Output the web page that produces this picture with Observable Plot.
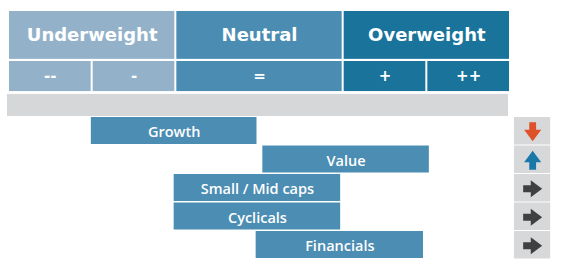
<!DOCTYPE html>
<html><head><meta charset="utf-8">
<script src="https://cdn.jsdelivr.net/npm/d3@7"></script>
<script src="https://cdn.jsdelivr.net/npm/@observablehq/plot@0.6"></script>
<style>body{margin:0;background:#fff}#chart svg{display:block}</style>
</head><body><div id="chart"></div>
<script>
// ---- data ----
const groups = ["Underweight", "Neutral", "Overweight"];
const groupFrom = [0, 2, 4];
const groupTo = [2, 4, 6];
const levels = ["--", "-", "=", "+", "++"];
const levelFrom = [0, 1, 2, 4, 5];
const levelTo = [1, 2, 4, 5, 6];
const sectors = ["Growth", "Value", "Small / Mid caps", "Cyclicals", "Financials"];
const sectorFrom = [0.99, 3.04, 1.98, 1.98, 2.96];
const sectorTo = [2.97, 5.03, 3.97, 3.97, 4.96];
const trends = ["down", "up", "flat", "flat", "flat"];

// ---- styling ----
const groupColor = ["#93b2ca", "#4b8db2", "#19739b"];
const levelColor = ["#93b2ca", "#93b2ca", "#4b8db2", "#19739b", "#19739b"];
const barColor = "#4b8db3";
const greyBar = "#d6d7d9";
const boxGrey = "#d7d8da";
const headFont = "DejaVu Sans";
const barFont = "Open Sans";

function arrow(angle) {
  const pts = [[-1,-0.36],[-0.2,-0.36],[-0.2,-0.9],[1,0],[-0.2,0.9],[-0.2,0.36],[-1,0.36]];
  const c = Math.cos(angle), s = Math.sin(angle);
  return {
    draw(ctx, size) {
      const r = Math.sqrt(size / Math.PI);
      pts.forEach(([x, y], i) => {
        const px = (x * c - y * s) * r, py = (x * s + y * c) * r;
        i ? ctx.lineTo(px, py) : ctx.moveTo(px, py);
      });
      ctx.closePath();
    }
  };
}
const arrowShape = {down: arrow(Math.PI / 2), up: arrow(-Math.PI / 2), flat: arrow(0)};
const arrowColor = {down: "#df5128", up: "#1a78a8", flat: "#3e4042"};

const idx = sectors.map((d, i) => i);
const arrowX = 6.265;

const chart = Plot.plot({
  width: 572,
  height: 268,
  margin: 0,
  x: {domain: [0, 6], range: [8, 510], axis: null},
  y: {domain: [0, 5], range: [117, 259.5], axis: null},
  marks: [
    // header row 1
    Plot.rect(groups, {x1: (d, i) => groupFrom[i], x2: (d, i) => groupTo[i], y1: -3.72, y2: -2.04,
      fill: (d, i) => groupColor[i], insetLeft: 1, insetRight: 1}),
    Plot.text(groups, {x: (d, i) => (groupFrom[i] + groupTo[i]) / 2, y: -2.88, text: d => d,
      fill: "white", fontSize: 18, fontWeight: "bold", fontFamily: headFont}),
    // header row 2
    Plot.rect(levels, {x1: (d, i) => levelFrom[i], x2: (d, i) => levelTo[i], y1: -1.965, y2: -0.91,
      fill: (d, i) => levelColor[i], insetLeft: 1, insetRight: 1}),
    Plot.text(levels, {x: (d, i) => (levelFrom[i] + levelTo[i]) / 2, y: -1.44, text: d => d,
      fill: "white", fontSize: 15, fontWeight: "bold", fontFamily: headFont}),
    // grey bar
    Plot.rect([0], {x1: -0.012, x2: 5.976, y1: -0.81, y2: -0.035, fill: greyBar}),
    // sector bars
    Plot.rect(idx, {x1: i => sectorFrom[i], x2: i => sectorTo[i], y1: i => i, y2: i => i + 1,
      fill: barColor, insetBottom: 1.5}),
    Plot.text(idx, {x: i => (sectorFrom[i] + sectorTo[i]) / 2, y: i => i + 0.5, text: i => sectors[i],
      fill: "white", fontSize: 14.5, fontWeight: 600, fontFamily: barFont, dy: 1}),
    // trend boxes
    Plot.rect(idx, {x1: 6.048, x2: 6.48, y1: i => i, y2: i => i + 1, fill: boxGrey, insetBottom: 1}),
    ...["down", "up", "flat"].map(t =>
      Plot.dot(idx.filter(i => trends[i] === t), {x: arrowX, y: i => i + 0.5, r: 9.5,
        symbol: arrowShape[t], fill: arrowColor[t], stroke: "none"}))
  ]
});
document.getElementById("chart").append(chart);
</script>
</body></html>
